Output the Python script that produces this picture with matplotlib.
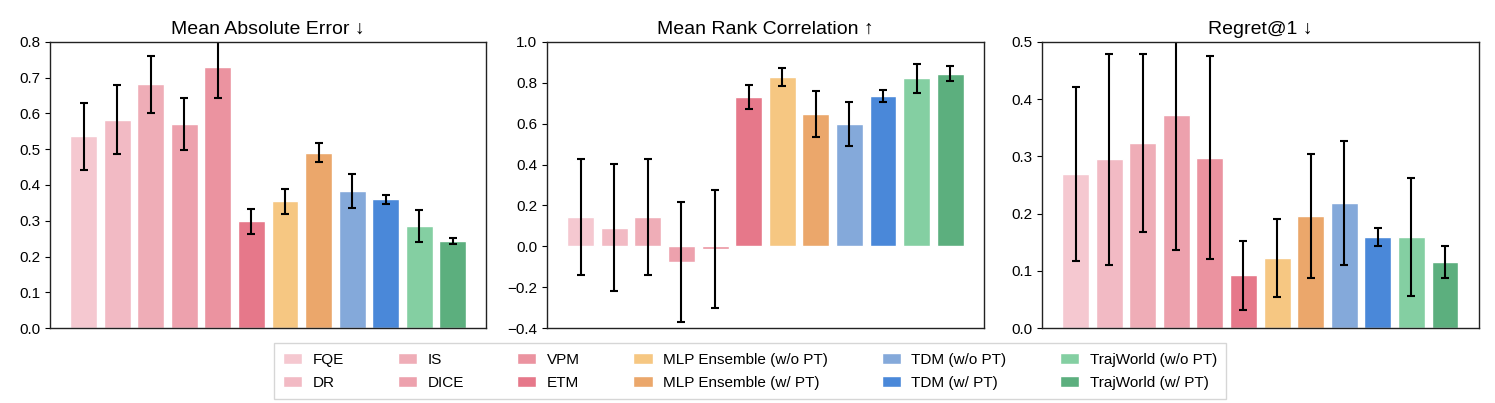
import numpy as np
import matplotlib
matplotlib.use("Agg")
import matplotlib.pyplot as plt
from matplotlib.patches import Patch

plt.rcParams['font.family'] = ['Liberation Sans', 'DejaVu Sans']

methods = ['FQE', 'DR', 'IS', 'DICE', 'VPM', 'ETM',
           'MLP Ensemble (w/o PT)', 'MLP Ensemble (w/ PT)',
           'TDM (w/o PT)', 'TDM (w/ PT)',
           'TrajWorld (w/o PT)', 'TrajWorld (w/ PT)']
colors = ['#f5c8d0', '#f2bac4', '#efadb7', '#eda1ad', '#eb93a0', '#e6788a',
          '#f6c782', '#eba76b', '#84a9da', '#4a88d9', '#84cfa2', '#5caf7e']

mae = [0.536, 0.583, 0.682, 0.571, 0.729, 0.299, 0.355, 0.490, 0.383, 0.360, 0.285, 0.244]
mae_err = [0.093, 0.097, 0.080, 0.072, 0.086, 0.035, 0.035, 0.027, 0.048, 0.013, 0.045, 0.008]

rank = [0.144, 0.090, 0.144, -0.075, -0.013, 0.732, 0.829, 0.648, 0.600, 0.734, 0.822, 0.845]
rank_err = [0.283, 0.311, 0.285, 0.293, 0.289, 0.059, 0.045, 0.113, 0.108, 0.029, 0.071, 0.036]

regret = [0.270, 0.295, 0.323, 0.373, 0.298, 0.092, 0.122, 0.196, 0.218, 0.159, 0.159, 0.116]
regret_err = [0.152, 0.184, 0.156, 0.237, 0.177, 0.060, 0.068, 0.108, 0.108, 0.016, 0.103, 0.028]

panels = [
    ('Mean Absolute Error \u2193', mae, mae_err, (0, 0.8)),
    ('Mean Rank Correlation \u2191', rank, rank_err, (-0.4, 1.0)),
    ('Regret@1 \u2193', regret, regret_err, (0, 0.5)),
]

fig = plt.figure(figsize=(14.95, 4.03), dpi=100)
lefts = [0.0334, 0.366, 0.697]
width = 0.292
x = np.arange(len(methods))

for left, (title, vals, errs, ylim) in zip(lefts, panels):
    ax = fig.add_axes([left, 0.186, width, 0.71])
    ax.bar(x, vals, width=0.8, color=colors, edgecolor='white', linewidth=1,
           yerr=errs, capsize=3,
           error_kw=dict(ecolor='black', elinewidth=1.5, capthick=1.5))
    ax.set_xlim(-1, 12)
    ax.set_ylim(*ylim)
    ax.set_xticks([])
    ax.set_title(title, fontsize=14, pad=6)
    ax.tick_params(axis='y', labelsize=11)
    for s in ax.spines.values():
        s.set_linewidth(1.0)
        s.set_color('#222222')

handles = [Patch(facecolor=c, edgecolor='white', label=m) for c, m in zip(colors, methods)]
fig.legend(handles=handles, loc='center', bbox_to_anchor=(0.5017, 0.079), ncol=6,
           fontsize=11, frameon=True, handlelength=1.25, columnspacing=3.5,
           handletextpad=0.7, labelspacing=0.6, borderpad=0.6,
           fancybox=False, edgecolor='#cccccc')

fig.savefig('out.png', dpi=100)
